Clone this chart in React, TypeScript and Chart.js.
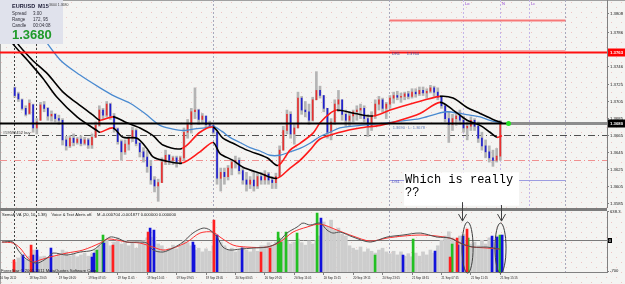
import React, { useEffect, useRef } from "react";
import { Chart, registerables } from "chart.js";
Chart.register(...registerables);

// ---------- axis labels ----------
const timeLabels = ["16 Sep 2011","18 Sep 23:05","19 Sep 03:05","19 Sep 07:05","19 Sep 11:05","19 Sep 15:05","19 Sep 19:05","19 Sep 23:05","20 Sep 03:05","20 Sep 07:05","20 Sep 11:05","20 Sep 15:15","20 Sep 19:15","20 Sep 23:15","21 Sep 03:15","21 Sep 07:15","21 Sep 11:15","21 Sep 15:15"];
const timeLabelBars = [0,16,32,48,64,80,96,112,128,144,160,176,192,208,224,240,256,272];
const priceTicks = [1.3808,1.3786,1.3765,1.3746,1.3725,1.3705,1.3685,1.3665,1.3645,1.3625,1.3605,1.3585];
const indicatorTicks = [638.3, -700];
const indicatorTickLabels = ["638.3", "-700"];

// ---------- candles (M15, one candle per 2 bars) ----------
const firstCandleBar = 8;
const candleBarStep = 2;
const opens = [1.3721,1.3714,1.3707,1.3697,1.3691,1.3701,1.3674,1.3683,1.3701,1.3697,
1.3688,1.3690,1.3685,1.3683,1.3660,1.3653,1.3662,1.3657,1.3661,1.3656,
1.3660,1.3654,1.3663,1.3677,1.3695,1.3689,1.3702,1.3688,1.3673,1.3658,
1.3646,1.3655,1.3662,1.3671,1.3656,1.3646,1.3640,1.3629,1.3613,1.3606,
1.3610,1.3634,1.3642,1.3636,1.3639,1.3634,1.3639,1.3669,1.3678,1.3693,
1.3695,1.3684,1.3688,1.3678,1.3677,1.3669,1.3615,1.3622,1.3617,1.3627,
1.3634,1.3636,1.3624,1.3613,1.3608,1.3613,1.3606,1.3617,1.3613,1.3620,
1.3613,1.3610,1.3617,1.3648,1.3671,1.3690,1.3667,1.3674,1.3709,1.3695,
1.3693,1.3683,1.3707,1.3718,1.3712,1.3697,1.3669,1.3681,1.3702,1.3707,
1.3690,1.3683,1.3688,1.3693,1.3695,1.3697,1.3685,1.3676,1.3688,1.3702,
1.3707,1.3697,1.3702,1.3709,1.3712,1.3710,1.3711,1.3714,1.3711,1.3716,
1.3714,1.3718,1.3715,1.3717,1.3721,1.3716,1.3710,1.3700,1.3685,1.3678,
1.3685,1.3688,1.3683,1.3674,1.3676,1.3683,1.3676,1.3662,1.3653,1.3646,
1.3639,1.3636,1.3641];
const highs = [1.3722,1.3716,1.3708,1.3700,1.3707,1.3702,1.3685,1.3704,1.3705,1.3698,
1.3694,1.3691,1.3689,1.3685,1.3664,1.3665,1.3667,1.3663,1.3665,1.3663,
1.3662,1.3667,1.3681,1.3700,1.3697,1.3705,1.3703,1.3691,1.3674,1.3660,
1.3660,1.3664,1.3675,1.3673,1.3657,1.3651,1.3648,1.3636,1.3617,1.3614,
1.3639,1.3648,1.3643,1.3641,1.3641,1.3641,1.3674,1.3684,1.3697,1.3721,
1.3696,1.3691,1.3688,1.3682,1.3677,1.3670,1.3627,1.3627,1.3630,1.3636,
1.3641,1.3639,1.3627,1.3622,1.3617,1.3622,1.3621,1.3622,1.3624,1.3622,
1.3617,1.3621,1.3653,1.3676,1.3695,1.3693,1.3678,1.3716,1.3711,1.3705,
1.3702,1.3710,1.3740,1.3723,1.3712,1.3697,1.3685,1.3707,1.3718,1.3707,
1.3695,1.3693,1.3695,1.3700,1.3702,1.3700,1.3690,1.3693,1.3707,1.3711,
1.3709,1.3704,1.3712,1.3716,1.3717,1.3715,1.3716,1.3717,1.3720,1.3720,
1.3722,1.3722,1.3720,1.3724,1.3723,1.3721,1.3712,1.3702,1.3693,1.3690,
1.3693,1.3695,1.3688,1.3681,1.3687,1.3685,1.3681,1.3669,1.3660,1.3653,
1.3648,1.3650,1.3683];
const lows = [1.3710,1.3705,1.3695,1.3688,1.3690,1.3669,1.3667,1.3683,1.3693,1.3683,
1.3682,1.3681,1.3678,1.3654,1.3648,1.3651,1.3653,1.3655,1.3653,1.3654,
1.3650,1.3650,1.3663,1.3676,1.3684,1.3687,1.3684,1.3669,1.3655,1.3636,
1.3643,1.3648,1.3658,1.3653,1.3640,1.3634,1.3622,1.3608,1.3599,1.3588,
1.3610,1.3631,1.3631,1.3631,1.3628,1.3631,1.3636,1.3662,1.3668,1.3685,
1.3678,1.3680,1.3674,1.3674,1.3667,1.3608,1.3600,1.3608,1.3613,1.3619,
1.3627,1.3620,1.3608,1.3600,1.3603,1.3600,1.3603,1.3608,1.3608,1.3608,
1.3603,1.3603,1.3617,1.3648,1.3667,1.3662,1.3655,1.3674,1.3690,1.3687,
1.3678,1.3682,1.3707,1.3709,1.3693,1.3662,1.3660,1.3678,1.3693,1.3683,
1.3676,1.3676,1.3681,1.3683,1.3685,1.3681,1.3664,1.3671,1.3685,1.3695,
1.3693,1.3685,1.3697,1.3703,1.3707,1.3704,1.3707,1.3708,1.3709,1.3710,
1.3712,1.3712,1.3709,1.3715,1.3711,1.3707,1.3697,1.3681,1.3657,1.3671,
1.3677,1.3678,1.3669,1.3660,1.3671,1.3671,1.3657,1.3648,1.3639,1.3634,
1.3629,1.3634,1.3636];
const closes = [1.3712,1.3708,1.3697,1.3690,1.3703,1.3674,1.3681,1.3701,1.3697,1.3688,
1.3690,1.3685,1.3683,1.3660,1.3653,1.3662,1.3657,1.3661,1.3656,1.3660,
1.3654,1.3663,1.3677,1.3695,1.3689,1.3702,1.3688,1.3673,1.3658,1.3646,
1.3655,1.3662,1.3671,1.3656,1.3646,1.3640,1.3629,1.3613,1.3606,1.3610,
1.3634,1.3642,1.3636,1.3639,1.3634,1.3639,1.3669,1.3678,1.3693,1.3695,
1.3684,1.3688,1.3678,1.3677,1.3669,1.3615,1.3622,1.3617,1.3627,1.3634,
1.3636,1.3624,1.3613,1.3608,1.3613,1.3606,1.3617,1.3613,1.3620,1.3613,
1.3610,1.3617,1.3648,1.3671,1.3690,1.3667,1.3674,1.3709,1.3695,1.3693,
1.3683,1.3707,1.3718,1.3712,1.3697,1.3669,1.3681,1.3702,1.3707,1.3690,
1.3683,1.3688,1.3693,1.3695,1.3697,1.3685,1.3676,1.3688,1.3702,1.3707,
1.3697,1.3702,1.3709,1.3712,1.3710,1.3711,1.3714,1.3711,1.3716,1.3714,
1.3718,1.3715,1.3717,1.3721,1.3716,1.3710,1.3700,1.3685,1.3678,1.3685,
1.3688,1.3683,1.3674,1.3676,1.3683,1.3676,1.3662,1.3653,1.3646,1.3639,
1.3636,1.3641,1.3680];
const volumes = [16,23,28,20,26,
36,28,25,26,23,28,25,30,
36,33,26,30,25,28,31,26,30,36,43,
46,52,43,49,56,46,52,43,48,39,46,51,56,
57,52,46,43,36,39,44,38,43,52,
48,43,36,39,33,38,34,43,
59,49,43,36,39,33,36,41,36,33,38,34,43,
43,48,44,49,52,56,51,46,49,54,48,44,51,46,52,59,
82,75,85,69,72,62,59,
43,39,36,41,33,38,34,31,36,39,33,30,34,28,33,26,
30,25,31,26,33,28,36,31,
43,52,59,66,56,49,59,62,52,46,
49,43,52,46,56,49,59,52];

// ---------- moving averages [bar, price] ----------
const fastMA = [[5.4,1.3791],[9.2,1.3774],[17.4,1.3754],[25.6,1.3738],[34.3,1.3716],[41.9,1.3703],[50.6,1.3689],[54.4,1.3683],[61.4,1.3687],[69.0,1.3680],[76.1,1.3674],[83.2,1.3665],[88.6,1.3654],[99.0,1.3650],[108.7,1.3669],[115.8,1.3675],[121.2,1.3662],[126.7,1.3656],[134.3,1.3648],[145.2,1.3639],[151.2,1.3630],[157.7,1.3648],[163.1,1.3656],[170.2,1.3668],[174.0,1.3680],[179.4,1.3691],[183.2,1.3695],[193.0,1.3691],[202.8,1.3688],[212.1,1.3695],[224.5,1.3703],[239.2,1.3711],[246.3,1.3709],[253.9,1.3698],[261.0,1.3691],[268.0,1.3684],[272.9,1.3680]];
const slowMA = [[2.2,1.3791],[6.5,1.3774],[14.7,1.3754],[23.4,1.3732],[31.0,1.3710],[41.9,1.3687],[52.7,1.3671],[54.4,1.3669],[61.4,1.3674],[66.9,1.3663],[74.5,1.3662],[79.9,1.3650],[83.2,1.3640],[88.6,1.3636],[99.0,1.3633],[108.7,1.3646],[115.8,1.3657],[119.6,1.3644],[126.7,1.3636],[132.1,1.3628],[141.4,1.3621],[150.6,1.3615],[157.7,1.3627],[163.1,1.3636],[168.5,1.3648],[174.0,1.3661],[184.8,1.3669],[195.7,1.3674],[206.6,1.3677],[217.5,1.3683],[228.3,1.3691],[239.2,1.3704],[246.3,1.3695],[253.9,1.3683],[261.0,1.3677],[266.4,1.3669],[270.2,1.3663],[272.9,1.3665]];
const blueMA = [[21.7,1.3785],[32.6,1.3754],[43.5,1.3736],[54.4,1.3721],[62.5,1.3711],[70.7,1.3703],[78.8,1.3691],[87.0,1.3677],[93.5,1.3673],[99.5,1.3671],[106.0,1.3673],[111.5,1.3674],[115.8,1.3676],[120.7,1.3670],[125.0,1.3663],[130.5,1.3657],[135.9,1.3651],[141.4,1.3647],[146.8,1.3642],[152.2,1.3642],[157.7,1.3646],[163.1,1.3650],[168.5,1.3656],[174.0,1.3664],[179.4,1.3669],[184.8,1.3674],[195.7,1.3677],[210.4,1.3680],[217.5,1.3682],[228.3,1.3685],[236.5,1.3690],[243.0,1.3693],[250.1,1.3691],[255.5,1.3689],[261.0,1.3687],[266.4,1.3683],[270.2,1.3681],[273.5,1.3680]];

// ---------- indicator [bar, value] ----------
const oscMain = [[1.1,-45],[7.1,-45],[9.8,-225],[13.6,-405],[17.4,-495],[20.7,-518],[25.6,-405],[28.8,-293],[36.4,-338],[43.5,-270],[50.6,-225],[56,-45],[59.8,68],[63.6,45],[69,-45],[74.5,-45],[79.9,-68],[83.2,-225],[88.6,-270],[94.1,-180],[99.5,-45],[104.9,158],[110.4,270],[114.2,225],[118,68],[121.2,-158],[125,-225],[130.5,-203],[137.6,-180],[145.2,-158],[150.6,-68],[156,158],[161.5,293],[164.7,383],[168.5,338],[174,383],[177.8,225],[181,158],[184.9,180],[191.9,68],[201.2,-45],[210.4,68],[219.1,113],[228.4,158],[237.6,68],[244.7,45],[250.1,-68],[257.2,-158],[264.8,-158],[271.8,-203]];
const oscSignal = [[1.1,-45],[7.1,-68],[10.9,-180],[14.7,-383],[17.9,-495],[21.7,-450],[27.2,-383],[36.4,-293],[45.1,-225],[54.4,-68],[58.2,23],[63.6,0],[69,-45],[76.1,-68],[83.2,-158],[88.6,-225],[94.1,-180],[101.7,-45],[108.7,158],[115.8,180],[119.6,68],[126.7,-113],[134.3,-158],[145.2,-158],[152.2,-45],[159.3,180],[166.9,293],[174,360],[183.2,225],[191.9,90],[201.2,-23],[210.4,45],[219.1,90],[228.4,113],[237.6,90],[246.3,23],[253.9,-135],[264.8,-180],[271.8,-203]];
const redSpikes = [[7.6,-450],[16.9,-113],[61.4,-113],[80.5,180],[116.3,450],[141.9,-270],[146.8,-180],[244.7,-383],[248.5,45],[253.9,248]];
const blueSpikes = [[12.5,-338],[17.9,-338],[20.1,-225],[27.7,-180],[50,-383],[51.1,-293],[56.5,-68],[81.6,270],[83.7,225],[104.9,-45],[105.5,-113],[118,113],[131.6,-180],[174.5,495],[219.1,-338],[236.5,-248],[249,-113],[251.7,90],[267.5,90],[270.2,68],[273,113]];
const greenSpikes = [[52.7,-225],[56,113],[151.2,180],[151.7,45],[152.8,-45],[155.5,180],[161.5,158],[172.4,608],[203.9,-338],[224.6,23],[245.8,-90],[254.5,45],[271.8,113]];

// ---------- chart objects ----------
const bidPrice = 1.3680;
const redLevel = 1.3763;
const r2Level = 1.3801;
const dr1Level = 1.3765;
const ds1Level = 1.3613;
const orderLevel = 1.3666;
const stopLevel = 1.3637;
const zoneStartBar = 211.5;
const zoneEndBar = 307.2;
const darkVerticalBars = [7.6, 19.6];
const grayVerticalBars = [115.8, 211.5, 307.2];
const pivotMarks = [{ bar: 251.7, label: "Lo" }, { bar: 271.8, label: "N" }, { bar: 287.6, label: "Lc" }];

const BULL = "#e83030";
const BEAR = "#2020d0";
const FONT = "Liberation Sans";

function makePattern(ctx: CanvasRenderingContext2D) {
  const tile = document.createElement("canvas");
  tile.width = 10; tile.height = 10;
  const g = tile.getContext("2d")!;
  g.fillStyle = "#f4f4f2"; g.fillRect(0, 0, 10, 10);
  g.fillStyle = "#efc4c4"; g.fillRect(1, 2, 1, 1); g.fillRect(6, 7, 1, 1);
  return ctx.createPattern(tile, "repeat")!;
}

function text(ctx: CanvasRenderingContext2D, s: string, x: number, y: number, font: string, color: string, align: CanvasTextAlign = "left") {
  ctx.font = font; ctx.fillStyle = color; ctx.textAlign = align; ctx.textBaseline = "middle";
  ctx.fillText(s, x, y);
}

const mainDecor = {
  id: "mainDecor",
  beforeDraw(chart: any) {
    const { ctx, width, height } = chart;
    ctx.save(); ctx.fillStyle = makePattern(ctx); ctx.fillRect(0, 0, width, height);
    ctx.fillStyle = "#a0a0a0"; ctx.fillRect(0, 0, width, 1); ctx.fillRect(0, 0, 1, height);
    ctx.restore();
  },
  beforeDatasetsDraw(chart: any) {
    const { ctx, chartArea: a, scales: { x, y } } = chart;
    const X = (v: number) => Math.round(x.getPixelForValue(v)) + 0.5;
    const Y = (v: number) => Math.round(y.getPixelForValue(v)) + 0.5;
    ctx.save();
    ctx.lineWidth = 1;
    const vline = (b: number, c: string) => { ctx.strokeStyle = c; ctx.setLineDash([2, 2]); ctx.beginPath(); ctx.moveTo(X(b), a.top); ctx.lineTo(X(b), a.bottom); ctx.stroke(); };
    darkVerticalBars.forEach(b => vline(b, "#404040"));
    grayVerticalBars.forEach(b => vline(b, "#a8a8bc"));
    pivotMarks.forEach(m => vline(m.bar, "#c4b4e8"));
    const hline = (p: number, c: string, dash: number[], x0: number, x1: number, w: number) => {
      ctx.strokeStyle = c; ctx.lineWidth = w; ctx.setLineDash(dash); ctx.beginPath(); ctx.moveTo(x0, Y(p)); ctx.lineTo(x1, Y(p)); ctx.stroke();
    };
    hline(orderLevel, "#505050", [7, 3, 1, 3], a.left, a.right, 1);
    hline(stopLevel, "#f09090", [7, 3, 1, 3], a.left, a.right, 1);
    hline(r2Level, "#f87878", [], X(zoneStartBar), X(zoneEndBar), 2);
    hline(dr1Level, "#f4a8a8", [], X(zoneStartBar), X(zoneEndBar), 1);
    hline(ds1Level, "#9c9ce0", [], X(zoneStartBar), X(zoneEndBar), 1);
    ctx.restore();
  },
  afterDatasetsDraw(chart: any) {
    const { ctx, chartArea: a, scales: { x, y } } = chart;
    const X = (v: number) => x.getPixelForValue(v);
    const Y = (v: number) => Math.round(y.getPixelForValue(v)) + 0.5;
    ctx.save();
    ctx.setLineDash([]);
    ctx.strokeStyle = "#ff1010"; ctx.lineWidth = 2;
    ctx.beginPath(); ctx.moveTo(a.left, Y(redLevel)); ctx.lineTo(a.right, Y(redLevel)); ctx.stroke();
    const cut = X(277);
    ctx.strokeStyle = "#000"; ctx.lineWidth = 2;
    ctx.beginPath(); ctx.moveTo(a.left, Y(bidPrice)); ctx.lineTo(cut, Y(bidPrice)); ctx.stroke();
    ctx.strokeStyle = "#8c8c8c"; ctx.lineWidth = 3;
    ctx.beginPath(); ctx.moveTo(cut, Y(bidPrice)); ctx.lineTo(a.right, Y(bidPrice)); ctx.stroke();
    ctx.fillStyle = "#22e022"; ctx.beginPath(); ctx.arc(X(276.5), Y(bidPrice), 2.5, 0, Math.PI * 2); ctx.fill();
    pivotMarks.forEach(m => text(ctx, m.label, X(m.bar) + 2, 4, `4px ${FONT}`, "#9040d0"));
    text(ctx, "DR1      1.3764", X(zoneStartBar) + 3, Y(redLevel) + 1, `4px ${FONT}`, "#404090");
    text(ctx, "DS1", X(zoneStartBar) + 3, Y(ds1Level) + 1.5, `4px ${FONT}`, "#5050c0");
    text(ctx, "#59592452 buy", a.left + 3, Y(orderLevel) - 3, `4px ${FONT}`, "#303030");
    text(ctx, "1.3690", X(213.5), Y(bidPrice) + 4.5, `4px ${FONT}`, "#5a78b8");
    text(ctx, "L: 1.3678", X(222), Y(bidPrice) + 4.5, `4px ${FONT}`, "#5a78b8");
    ctx.fillStyle = "#e0e2ec"; ctx.fillRect(0, 0, 63, 44);
    text(ctx, "EURUSD", 12, 6, `bold 5.5px ${FONT}`, "#20203a");
    text(ctx, "M15", 38, 6, `bold 5.5px ${FONT}`, "#20203a");
    text(ctx, "Spread", 12, 14, `4.5px ${FONT}`, "#30303a");
    text(ctx, "3.00", 33, 14, `4.5px ${FONT}`, "#30303a");
    text(ctx, "Range", 12, 20, `4.5px ${FONT}`, "#30303a");
    text(ctx, "172, 95", 33, 20, `4.5px ${FONT}`, "#30303a");
    text(ctx, "Candle", 12, 26, `4.5px ${FONT}`, "#30303a");
    text(ctx, "00:04:08", 33, 26, `4.5px ${FONT}`, "#30303a");
    text(ctx, "1.3680", 12, 35, `bold 13px ${FONT}`, "#1f9a2a");
    text(ctx, "3604 1.3680", 49, 5, `3.5px ${FONT}`, "#404040");
    const bx0 = X(219.7), bx1 = X(282.2), by0 = y.getPixelForValue(1.3622), by1 = y.getPixelForValue(1.3583);
    ctx.fillStyle = "#ffffff"; ctx.fillRect(bx0, by0, bx1 - bx0, by1 - by0);
    text(ctx, "Which is really", bx0 + 1, by0 + 8, "12px 'Liberation Mono'", "#000");
    text(ctx, "??", bx0 + 1, by0 + 21, "12px 'Liberation Mono'", "#000");
    ctx.restore();
  },
  afterDraw(chart: any) {
    const { ctx, chartArea: a, scales: { y } } = chart;
    ctx.save();
    const box = (p: number, bg: string, s: string) => {
      const py = Math.round(y.getPixelForValue(p));
      ctx.fillStyle = bg; ctx.fillRect(a.right + 1, py - 3.5, 18, 8);
      text(ctx, s, a.right + 3, py + 0.5, `bold 4.3px ${FONT}`, "#ffffff");
    };
    box(redLevel, "#ff0000", "1.3763");
    box(bidPrice, "#000000", "1.3680");
    ctx.restore();
  },
};

const indDecor = {
  id: "indDecor",
  beforeDraw(chart: any) {
    const { ctx, width, height, chartArea: a } = chart;
    ctx.save(); ctx.fillStyle = makePattern(ctx); ctx.fillRect(0, a.top - 3, width, height - a.top + 3);
    ctx.fillStyle = "#a0a0a0"; ctx.fillRect(0, a.top - 3, 1, height);
    ctx.restore();
  },
  beforeDatasetsDraw(chart: any) {
    const { ctx, chartArea: a, scales } = chart;
    const X = (v: number) => Math.round(scales.x.getPixelForValue(v)) + 0.5;
    const y0 = Math.round(scales.y2.getPixelForValue(0)) + 0.5;
    ctx.save();
    ctx.lineWidth = 1; ctx.strokeStyle = "#7a7a7a";
    ctx.beginPath(); ctx.moveTo(a.left, y0); ctx.lineTo(a.right, y0); ctx.stroke();
    ctx.setLineDash([2, 2]);
    const vline = (b: number, c: string) => { ctx.strokeStyle = c; ctx.beginPath(); ctx.moveTo(X(b), a.top); ctx.lineTo(X(b), a.bottom); ctx.stroke(); };
    darkVerticalBars.forEach(b => vline(b, "#404040"));
    grayVerticalBars.forEach(b => vline(b, "#a8a8bc"));
    ctx.restore();
  },
  afterDatasetsDraw(chart: any) {
    const { ctx, chartArea: a, scales } = chart;
    const X = (v: number) => scales.x.getPixelForValue(v);
    const V = (v: number) => scales.y2.getPixelForValue(v);
    ctx.save();
    text(ctx, "SemaF VA (20, 10, 1.38)    Voice & Text Alerts off.    M -0.000704 -0.001877 0.000000 0.000000", a.left + 2, a.top + 4, `4.1px ${FONT}`, "#202020");
    text(ctx, "ForexStar © 2001-2011 MetaQuotes Software Corp.", a.left + 1, a.bottom - 1.5, `4.2px ${FONT}`, "#202020");
    ctx.strokeStyle = "#404040"; ctx.lineWidth = 1;
    const ell = (b0: number, b1: number, v0: number, v1: number) => {
      const cx = (X(b0) + X(b1)) / 2, cy = (V(v0) + V(v1)) / 2;
      ctx.beginPath(); ctx.ellipse(cx, cy, Math.abs(X(b1) - X(b0)) / 2, Math.abs(V(v1) - V(v0)) / 2, 0, 0, Math.PI * 2); ctx.stroke();
    };
    ell(251.2, 257.2, 405, -745);
    ell(269.1, 275.1, 383, -745);
    ctx.restore();
  },
  afterDraw(chart: any) {
    const { ctx, chartArea: a, scales } = chart;
    const X = (v: number) => Math.round(scales.x.getPixelForValue(v)) + 0.5;
    const V = (v: number) => scales.y2.getPixelForValue(v);
    ctx.save();
    ctx.fillStyle = "#7c7c7c"; ctx.fillRect(0, a.top - 3, a.right, 3);
    const y0 = Math.round(V(0));
    ctx.fillStyle = "#000"; ctx.fillRect(a.right + 1, y0 - 2, 4, 5);
    text(ctx, "0", a.right + 1.8, y0 + 0.5, `4px ${FONT}`, "#fff");
    ctx.strokeStyle = "#404040"; ctx.lineWidth = 1;
    const arrow = (b: number, vTop: number, vTip: number) => {
      const xx = X(b), t = V(vTop), tip = V(vTip);
      ctx.beginPath(); ctx.moveTo(xx, t); ctx.lineTo(xx, tip);
      ctx.moveTo(xx - 4, tip - 7); ctx.lineTo(xx, tip); ctx.lineTo(xx + 4, tip - 7); ctx.stroke();
    };
    arrow(251.2, 855, 428);
    arrow(272.4, 789, 428);
    ctx.restore();
  },
};

export default function App() {
  const mainRef = useRef<HTMLCanvasElement>(null);
  const indRef = useRef<HTMLCanvasElement>(null);

  useEffect(() => {
    document.body.style.margin = "0";
    const candleBar = (i: number) => firstCandleBar + candleBarStep * i;
    const pts = (arr: number[][]) => arr.map(([x, y]) => ({ x, y }));
    const trendColor = (c: any) => (c.p1.parsed.y >= c.p0.parsed.y ? "#ff1a1a" : "#000000");

    const main = new Chart(mainRef.current!, {
      type: "bar",
      data: {
        datasets: [
          { type: "line", data: pts(fastMA), borderColor: "#000", borderWidth: 1.6, pointRadius: 0, tension: 0.3, segment: { borderColor: trendColor }, order: 0 } as any,
          { type: "line", data: pts(slowMA), borderColor: "#000", borderWidth: 1.6, pointRadius: 0, tension: 0.3, segment: { borderColor: trendColor }, order: 0 } as any,
          { type: "line", data: pts(blueMA), borderColor: "#4a8ad0", borderWidth: 1.3, pointRadius: 0, tension: 0.3, order: 1 } as any,
          { type: "bar", data: opens.map((o, i) => ({ x: candleBar(i), y: [o, closes[i]] })), backgroundColor: opens.map((o, i) => (closes[i] >= o ? BULL : BEAR)), barThickness: 1, grouped: false, order: 2 } as any,
          { type: "bar", data: highs.map((h, i) => ({ x: candleBar(i), y: [lows[i], h] })), backgroundColor: "#b4b4b4", barThickness: 2, grouped: false, order: 3 } as any,
        ],
      },
      options: {
        responsive: false, animation: false, devicePixelRatio: 1,
        layout: { padding: { left: 0, right: 0, top: 0, bottom: 1 } },
        plugins: { legend: { display: false }, tooltip: { enabled: false } },
        scales: {
          x: { type: "linear", min: 0, max: 330, offset: false, display: false },
          y: {
            position: "right", min: 1.3579, max: 1.3824,
            afterFit: (s: any) => { s.width = 18; s.paddingTop = 0; s.paddingBottom = 0; },
            afterBuildTicks: (s: any) => { s.ticks = priceTicks.map(v => ({ value: v })); },
            ticks: { font: { size: 4.3, family: FONT }, color: "#202020", padding: 1, callback: (v: any) => Number(v).toFixed(4) },
            grid: { drawOnChartArea: false, tickLength: 2, color: "#808080" },
            border: { color: "#808080" },
          },
        },
      } as any,
      plugins: [mainDecor],
    });

    const ind = new Chart(indRef.current!, {
      type: "bar",
      data: {
        datasets: [
          { type: "line", data: pts(oscMain), yAxisID: "y2", borderColor: "#505050", borderWidth: 1, pointRadius: 0, tension: 0.3, order: 0 } as any,
          { type: "line", data: pts(oscSignal), yAxisID: "y2", borderColor: "#ff3030", borderWidth: 1, pointRadius: 0, tension: 0.3, order: 0 } as any,
          { type: "bar", data: pts(redSpikes), yAxisID: "y2", base: -720, backgroundColor: "#ff2020", barThickness: 2, grouped: false, order: 1 } as any,
          { type: "bar", data: pts(blueSpikes), yAxisID: "y2", base: -720, backgroundColor: "#1212dc", barThickness: 2, grouped: false, order: 1 } as any,
          { type: "bar", data: pts(greenSpikes), yAxisID: "y2", base: -720, backgroundColor: "#22c022", barThickness: 2, grouped: false, order: 1 } as any,
          { type: "bar", data: volumes.map((v, i) => ({ x: candleBar(i), y: v })), yAxisID: "yv", backgroundColor: "#cdcdcd", barThickness: 3, grouped: false, order: 2 } as any,
        ],
      },
      options: {
        responsive: false, animation: false, devicePixelRatio: 1,
        layout: { padding: { left: 0, right: 0, top: 21, bottom: 0 } },
        plugins: { legend: { display: false }, tooltip: { enabled: false } },
        scales: {
          x: {
            type: "linear", min: 0, max: 330, offset: false,
            afterFit: (s: any) => { s.height = 12; s.paddingLeft = 0; s.paddingRight = 0; },
            afterBuildTicks: (s: any) => { s.ticks = timeLabelBars.map(v => ({ value: v })); },
            ticks: { align: "start", maxRotation: 0, minRotation: 0, autoSkip: false, font: { size: 2.9, family: FONT }, color: "#202020", padding: 1, callback: (_v: any, i: number) => timeLabels[i] },
            grid: { drawOnChartArea: false, tickLength: 3, color: "#808080", offset: false },
            border: { color: "#808080" },
          },
          y2: {
            position: "right", min: -720, max: 655,
            afterFit: (s: any) => { s.width = 18; s.paddingTop = 0; s.paddingBottom = 0; },
            afterBuildTicks: (s: any) => { s.ticks = indicatorTicks.map(v => ({ value: v })); },
            ticks: { font: { size: 4.2, family: FONT }, color: "#202020", padding: 1, callback: (_v: any, i: number) => indicatorTickLabels[i] },
            grid: { drawOnChartArea: false, tickLength: 2, color: "#808080" },
            border: { color: "#808080" },
          },
          yv: { display: false, min: 0, max: 100 },
        },
      } as any,
      plugins: [indDecor],
    });

    return () => { main.destroy(); ind.destroy(); };
  }, []);

  return (
    <div style={{ position: "relative", width: 625, height: 284, overflow: "hidden" }}>
      <canvas ref={mainRef} width={625} height={210} style={{ position: "absolute", left: 0, top: 0 }} />
      <canvas ref={indRef} width={625} height={94} style={{ position: "absolute", left: 0, top: 190 }} />
    </div>
  );
}
